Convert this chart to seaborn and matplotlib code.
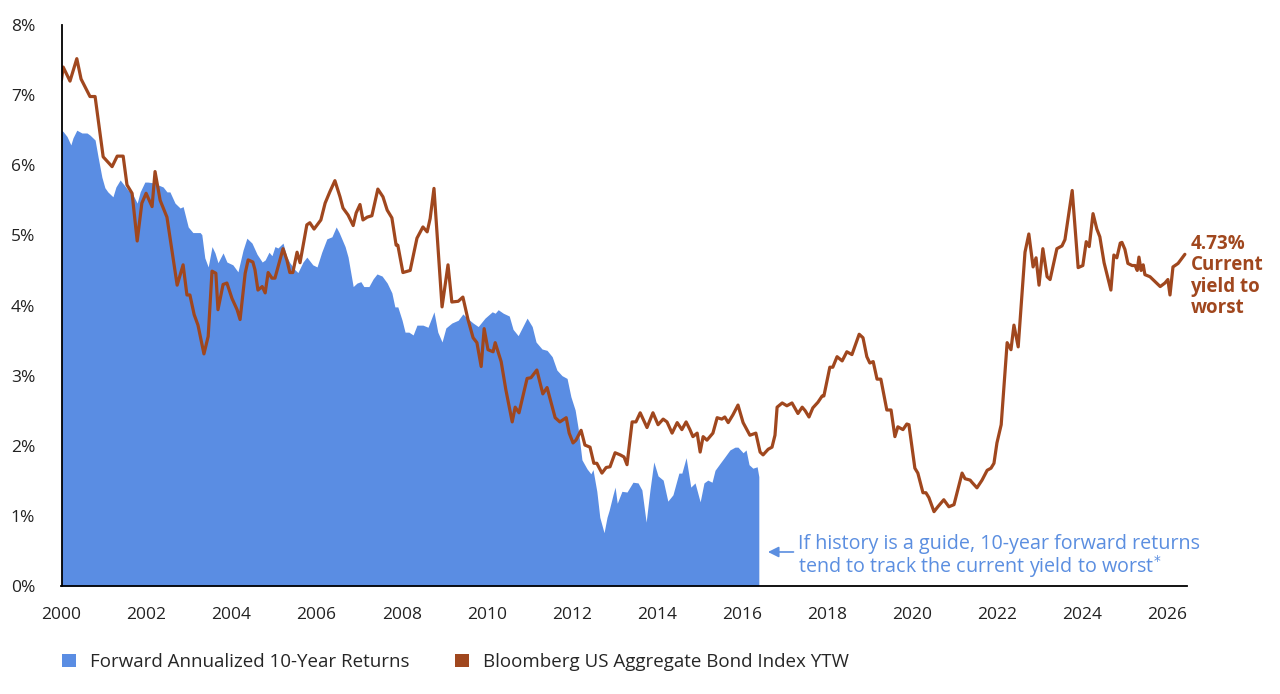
import matplotlib
matplotlib.use("Agg")
import matplotlib.pyplot as plt
from matplotlib.patches import Patch
from matplotlib.ticker import FuncFormatter
import seaborn as sns

# Bloomberg US Aggregate Bond Index yield to worst (%)
ytw_years = [
    2000.00, 2000.04, 2000.20, 2000.36, 2000.46, 2000.51, 2000.67, 2000.79, 2000.98, 2001.19,
    2001.31, 2001.45, 2001.54, 2001.66, 2001.78, 2001.89, 2001.99, 2002.13, 2002.20, 2002.32,
    2002.48, 2002.72, 2002.86, 2002.95, 2003.02, 2003.12, 2003.21, 2003.35, 2003.45, 2003.54,
    2003.63, 2003.68, 2003.80, 2003.89, 2004.01, 2004.13, 2004.20, 2004.32, 2004.39, 2004.50,
    2004.55, 2004.62, 2004.72, 2004.79, 2004.86, 2004.95, 2005.02, 2005.21, 2005.30, 2005.37,
    2005.44, 2005.54, 2005.61, 2005.77, 2005.84, 2005.94, 2006.10, 2006.20, 2006.31, 2006.43,
    2006.55, 2006.62, 2006.74, 2006.86, 2006.93, 2007.02, 2007.09, 2007.19, 2007.30, 2007.44,
    2007.56, 2007.66, 2007.77, 2007.87, 2007.91, 2008.03, 2008.20, 2008.36, 2008.50, 2008.60,
    2008.67, 2008.76, 2008.95, 2009.09, 2009.18, 2009.33, 2009.44, 2009.56, 2009.68, 2009.77,
    2009.87, 2009.94, 2010.03, 2010.15, 2010.20, 2010.34, 2010.45, 2010.60, 2010.67, 2010.76,
    2010.95, 2011.04, 2011.18, 2011.32, 2011.42, 2011.61, 2011.72, 2011.87, 2011.94, 2012.03,
    2012.10, 2012.22, 2012.31, 2012.43, 2012.52, 2012.59, 2012.71, 2012.81, 2012.90, 2013.02,
    2013.14, 2013.23, 2013.30, 2013.42, 2013.51, 2013.61, 2013.77, 2013.91, 2014.03, 2014.15,
    2014.24, 2014.36, 2014.48, 2014.59, 2014.69, 2014.78, 2014.85, 2014.95, 2015.02, 2015.09,
    2015.18, 2015.32, 2015.42, 2015.53, 2015.60, 2015.68, 2015.79, 2015.91, 2016.03, 2016.19,
    2016.33, 2016.43, 2016.50, 2016.62, 2016.71, 2016.78, 2016.83, 2016.95, 2017.06, 2017.18,
    2017.32, 2017.42, 2017.49, 2017.58, 2017.67, 2017.79, 2017.89, 2017.93, 2018.07, 2018.14,
    2018.24, 2018.36, 2018.47, 2018.59, 2018.76, 2018.85, 2018.94, 2019.01, 2019.09, 2019.18,
    2019.27, 2019.41, 2019.51, 2019.60, 2019.67, 2019.79, 2019.88, 2019.93, 2020.07, 2020.14,
    2020.26, 2020.33, 2020.40, 2020.52, 2020.61, 2020.75, 2020.87, 2020.99, 2021.18, 2021.25,
    2021.37, 2021.41, 2021.53, 2021.65, 2021.77, 2021.86, 2021.93, 2022.00, 2022.10, 2022.24,
    2022.33, 2022.40, 2022.50, 2022.66, 2022.75, 2022.85, 2022.92, 2022.99, 2023.08, 2023.18,
    2023.25, 2023.41, 2023.53, 2023.60, 2023.77, 2023.91, 2024.02, 2024.10, 2024.17, 2024.26,
    2024.35, 2024.42, 2024.52, 2024.68, 2024.75, 2024.82, 2024.90, 2024.94, 2025.01, 2025.08,
    2025.18, 2025.25, 2025.30, 2025.34, 2025.39, 2025.44, 2025.48, 2025.60, 2025.72, 2025.84,
    2025.95, 2026.02, 2026.07, 2026.14, 2026.26, 2026.42,
]
ytw_values = [
    7.22, 7.40, 7.20, 7.52, 7.23, 7.17, 6.98, 6.98, 6.12, 5.98,
    6.13, 6.13, 5.72, 5.60, 4.92, 5.46, 5.60, 5.41, 5.91, 5.50,
    5.26, 4.29, 4.58, 4.15, 4.15, 3.87, 3.72, 3.31, 3.56, 4.49,
    4.46, 3.94, 4.30, 4.32, 4.10, 3.94, 3.80, 4.46, 4.65, 4.62,
    4.51, 4.22, 4.27, 4.18, 4.47, 4.39, 4.39, 4.81, 4.65, 4.47,
    4.47, 4.76, 4.61, 5.15, 5.18, 5.09, 5.22, 5.46, 5.62, 5.78,
    5.55, 5.39, 5.29, 5.14, 5.32, 5.44, 5.22, 5.26, 5.28, 5.66,
    5.55, 5.36, 5.25, 4.86, 4.86, 4.47, 4.50, 4.96, 5.12, 5.05,
    5.24, 5.67, 3.98, 4.58, 4.05, 4.06, 4.12, 3.80, 3.54, 3.47,
    3.13, 3.67, 3.37, 3.34, 3.47, 3.20, 2.80, 2.34, 2.55, 2.47,
    2.96, 2.97, 3.08, 2.74, 2.83, 2.40, 2.34, 2.40, 2.18, 2.04,
    2.08, 2.22, 2.01, 1.98, 1.75, 1.75, 1.61, 1.69, 1.70, 1.90,
    1.87, 1.84, 1.73, 2.34, 2.34, 2.47, 2.26, 2.47, 2.30, 2.38,
    2.34, 2.18, 2.33, 2.23, 2.34, 2.23, 2.13, 2.18, 1.91, 2.13,
    2.08, 2.18, 2.40, 2.38, 2.41, 2.33, 2.44, 2.58, 2.33, 2.15,
    2.18, 1.91, 1.87, 1.95, 1.98, 2.15, 2.55, 2.61, 2.57, 2.61,
    2.46, 2.55, 2.50, 2.41, 2.54, 2.62, 2.71, 2.71, 3.12, 3.12,
    3.27, 3.21, 3.34, 3.30, 3.59, 3.54, 3.27, 3.18, 3.20, 2.95,
    2.95, 2.51, 2.51, 2.13, 2.27, 2.23, 2.31, 2.30, 1.68, 1.61,
    1.33, 1.33, 1.26, 1.06, 1.13, 1.23, 1.13, 1.16, 1.61, 1.53,
    1.51, 1.48, 1.40, 1.51, 1.65, 1.68, 1.75, 2.04, 2.30, 3.47,
    3.37, 3.72, 3.41, 4.76, 5.02, 4.55, 4.68, 4.29, 4.81, 4.41,
    4.37, 4.81, 4.85, 4.94, 5.64, 4.54, 4.57, 4.91, 4.84, 5.31,
    5.09, 4.98, 4.61, 4.22, 4.72, 4.68, 4.89, 4.90, 4.80, 4.60,
    4.57, 4.57, 4.50, 4.69, 4.50, 4.58, 4.44, 4.41, 4.34, 4.27,
    4.32, 4.37, 4.15, 4.55, 4.60, 4.73,
]

# Forward annualized 10-year returns (%)
fwd_years = [
    2000.00, 2000.04, 2000.13, 2000.22, 2000.27, 2000.36, 2000.48, 2000.60, 2000.67, 2000.79,
    2000.86, 2000.95, 2001.02, 2001.09, 2001.21, 2001.28, 2001.38, 2001.47, 2001.56, 2001.68,
    2001.78, 2001.85, 2001.96, 2002.03, 2002.15, 2002.27, 2002.39, 2002.48, 2002.55, 2002.67,
    2002.79, 2002.86, 2002.98, 2003.09, 2003.26, 2003.30, 2003.37, 2003.45, 2003.54, 2003.61,
    2003.68, 2003.80, 2003.89, 2003.96, 2004.03, 2004.15, 2004.27, 2004.36, 2004.48, 2004.60,
    2004.72, 2004.79, 2004.88, 2004.95, 2005.02, 2005.09, 2005.21, 2005.30, 2005.37, 2005.49,
    2005.56, 2005.68, 2005.77, 2005.91, 2006.01, 2006.12, 2006.24, 2006.36, 2006.46, 2006.53,
    2006.67, 2006.74, 2006.86, 2006.95, 2007.04, 2007.11, 2007.23, 2007.33, 2007.42, 2007.54,
    2007.66, 2007.77, 2007.84, 2007.91, 2008.01, 2008.08, 2008.17, 2008.27, 2008.36, 2008.50,
    2008.62, 2008.76, 2008.85, 2008.95, 2009.04, 2009.18, 2009.33, 2009.44, 2009.54, 2009.68,
    2009.80, 2009.96, 2010.13, 2010.20, 2010.27, 2010.39, 2010.53, 2010.62, 2010.74, 2010.95,
    2011.07, 2011.16, 2011.30, 2011.42, 2011.54, 2011.65, 2011.77, 2011.89, 2011.98, 2012.08,
    2012.15, 2012.24, 2012.36, 2012.45, 2012.50, 2012.59, 2012.66, 2012.76, 2012.83, 2012.88,
    2012.97, 2013.02, 2013.07, 2013.18, 2013.30, 2013.44, 2013.56, 2013.65, 2013.75, 2013.84,
    2013.93, 2014.03, 2014.15, 2014.26, 2014.38, 2014.52, 2014.59, 2014.69, 2014.80, 2014.90,
    2015.02, 2015.11, 2015.20, 2015.30, 2015.37, 2015.49, 2015.60, 2015.72, 2015.84, 2015.91,
    2016.03, 2016.10, 2016.17, 2016.26, 2016.36, 2016.40,
]
fwd_values = [
    6.50, 6.48, 6.41, 6.29, 6.39, 6.50, 6.46, 6.46, 6.43, 6.36,
    6.12, 5.83, 5.68, 5.62, 5.55, 5.69, 5.79, 5.72, 5.65, 5.58,
    5.46, 5.62, 5.76, 5.76, 5.75, 5.72, 5.69, 5.62, 5.62, 5.46,
    5.39, 5.41, 5.12, 5.04, 5.04, 5.01, 4.68, 4.55, 4.84, 4.75,
    4.61, 4.75, 4.62, 4.60, 4.58, 4.48, 4.79, 4.96, 4.89, 4.73,
    4.62, 4.65, 4.76, 4.71, 4.84, 4.82, 4.89, 4.69, 4.61, 4.51,
    4.47, 4.62, 4.69, 4.58, 4.55, 4.76, 4.95, 4.98, 5.12, 5.04,
    4.84, 4.69, 4.27, 4.32, 4.34, 4.27, 4.27, 4.38, 4.45, 4.42,
    4.32, 4.18, 3.98, 3.98, 3.79, 3.62, 3.62, 3.58, 3.72, 3.72,
    3.69, 3.91, 3.62, 3.48, 3.68, 3.75, 3.79, 3.88, 3.82, 3.75,
    3.70, 3.82, 3.91, 3.89, 3.94, 3.89, 3.85, 3.66, 3.57, 3.82,
    3.70, 3.48, 3.38, 3.36, 3.27, 3.08, 3.00, 2.96, 2.70, 2.51,
    2.25, 1.80, 1.67, 1.60, 1.66, 1.35, 0.98, 0.76, 0.98, 1.08,
    1.30, 1.41, 1.18, 1.35, 1.34, 1.48, 1.47, 1.37, 0.91, 1.37,
    1.77, 1.57, 1.51, 1.21, 1.30, 1.61, 1.61, 1.83, 1.41, 1.47,
    1.20, 1.47, 1.51, 1.48, 1.65, 1.75, 1.84, 1.94, 1.98, 1.98,
    1.90, 1.94, 1.73, 1.68, 1.70, 1.56,
]

year_ticks = list(range(2000, 2027, 2))
pct_ticks = list(range(0, 9))

BLUE = "#5A8DE3"
BROWN = "#A0471E"
TEXT_BLUE = "#5B8EE0"

sns.set_theme(style="white")
plt.rcParams["font.family"] = ["Open Sans", "DejaVu Sans"]

fig = plt.figure(figsize=(12.8, 6.94), dpi=100)
ax = fig.add_axes([61.5 / 1280, 1 - 586 / 694, (1187 - 61.5) / 1280, (586 - 25) / 694])

ax.fill_between(fwd_years, fwd_values, 0, color=BLUE, linewidth=0)
sns.lineplot(x=ytw_years, y=ytw_values, ax=ax, color=BROWN, linewidth=2.3, estimator=None)

ax.set_xlim(2000, 2026.47)
ax.set_ylim(0, 8)
ax.set_xticks(year_ticks)
ax.set_yticks(pct_ticks)
ax.yaxis.set_major_formatter(FuncFormatter(lambda v, p: f"{int(v)}%"))
ax.tick_params(axis="both", length=0, labelsize=12.5, colors="#222222")
ax.tick_params(axis="y", pad=19)
ax.tick_params(axis="x", pad=15)
for side in ["top", "right"]:
    ax.spines[side].set_visible(False)
for side in ["left", "bottom"]:
    ax.spines[side].set_color("black")
    ax.spines[side].set_linewidth(1.3)
ax.set_xlabel("")
ax.set_ylabel("")

# annotation pointing at the end of the forward-return series
ax.annotate("", xy=(2016.55, 0.485), xytext=(2017.28, 0.485),
            arrowprops=dict(arrowstyle="-|>", color=TEXT_BLUE, lw=1.2, mutation_scale=16))
ax.text(2017.33, 0.415,
        "If history is a guide, 10-year forward returns\ntend to track the current yield to worst$^{*}$",
        color=TEXT_BLUE, fontsize=14.2, va="center", ha="left", linespacing=0.92)

ax.text(2026.55, 5.02, f"{ytw_values[-1]:.2f}%\nCurrent\nyield to\nworst",
        color=BROWN, fontsize=13.5, fontweight="bold", va="top", ha="left",
        linespacing=1.1, clip_on=False)

handles = [Patch(facecolor=BLUE, edgecolor="none", label="Forward Annualized 10-Year Returns"),
           Patch(facecolor=BROWN, edgecolor="none", label="Bloomberg US Aggregate Bond Index YTW")]
fig.legend(handles=handles, loc="center left", bbox_to_anchor=(62 / 1280, 1 - 662 / 694),
           ncol=2, frameon=False, fontsize=13.5, handlelength=0.75, handleheight=0.75,
           handletextpad=0.75, columnspacing=2.4, borderpad=0, borderaxespad=0)

fig.savefig("out.png", dpi=100)
